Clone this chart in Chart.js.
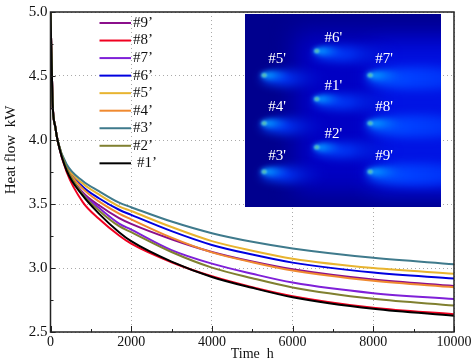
<!DOCTYPE html>
<html>
<head>
<meta charset="utf-8">
<style>
  html, body { margin: 0; padding: 0; background: #fff; }
  canvas { display: block; }
</style>
<script src="https://cdn.jsdelivr.net/npm/chart.js@4"></script>
</head>
<body>
<canvas id="chart" width="474" height="360"></canvas>
<script>
const times = [0, 50, 120, 180, 400, 800, 1200, 1700, 2000, 3000, 4000, 5000, 6000, 8000, 10000];

const series1 = [5.0, 4.3, 4.1, 3.99, 3.76, 3.565, 3.425, 3.28, 3.21, 3.05, 2.93, 2.845, 2.772, 2.681, 2.627];
const series2 = [5.0, 4.3, 4.1, 3.99, 3.78, 3.575, 3.45, 3.327, 3.28, 3.125, 3.003, 2.92, 2.848, 2.759, 2.707];
const series3 = [5.0, 4.3, 4.1, 3.99, 3.81, 3.68, 3.6, 3.51, 3.475, 3.363, 3.272, 3.205, 3.153, 3.08, 3.03];
const series4 = [5.0, 4.3, 4.1, 3.99, 3.785, 3.62, 3.52, 3.425, 3.38, 3.237, 3.122, 3.045, 2.98, 2.90, 2.85];
const series5 = [5.0, 4.3, 4.1, 3.99, 3.80, 3.66, 3.575, 3.482, 3.445, 3.32, 3.21, 3.135, 3.073, 3.0, 2.956];
const series6 = [5.0, 4.3, 4.1, 3.99, 3.79, 3.635, 3.545, 3.455, 3.415, 3.288, 3.18, 3.105, 3.042, 2.964, 2.917];
const series7 = [5.0, 4.3, 4.1, 3.99, 3.77, 3.58, 3.47, 3.347, 3.3, 3.14, 3.034, 2.955, 2.886, 2.803, 2.757];
const series8 = [5.0, 4.3, 4.1, 3.99, 3.75, 3.515, 3.385, 3.254, 3.19, 3.045, 2.935, 2.85, 2.78, 2.689, 2.638];
const series9 = [5.0, 4.3, 4.1, 3.99, 3.77, 3.59, 3.49, 3.39, 3.345, 3.225, 3.125, 3.05, 2.99, 2.91, 2.86];

const seriesLabels = ["#1’", "#2’", "#3’", "#4’", "#5’", "#6’", "#7’", "#8’", "#9’"];
const seriesColors = ['#000000', '#808030', '#3f7a8c', '#f08a30', '#e8b430', '#0000e0', '#7f20d8', '#f00020', '#8b0f8b'];
const seriesValues = [series1, series2, series3, series4, series5, series6, series7, series8, series9];

const xTitle = 'Time  h';
const yTitle = 'Heat flow  kW';
const serif = '"Liberation Serif", serif';

// the 9 wells of the inset picture
const wellLabels = ["#1'", "#2'", "#3'", "#4'", "#5'", "#6'", "#7'", "#8'", "#9'"];
const wellX = [316.3, 316.3, 263.7, 263.7, 263.7, 316.3, 369.7, 369.7, 369.7];
const wellY = [99, 147.3, 171.7, 123.3, 75.3, 51, 75.3, 123.3, 171.7];

function plume(ctx, x, y, len, halfH, stops) {
  const g = ctx.createLinearGradient(x, 0, x + len, 0);
  stops.forEach(s => g.addColorStop(s[0], s[1]));
  ctx.fillStyle = g;
  ctx.beginPath();
  ctx.ellipse(x + len / 2, y + 1, len / 2, halfH, 0, 0, Math.PI * 2);
  ctx.fill();
}

const insetPlugin = {
  id: 'inset',
  beforeDatasetsDraw(chart) {
    const ctx = chart.ctx;
    const left = 245, top = 14, w = 196, h = 193;
    ctx.save();
    ctx.beginPath();
    ctx.rect(left, top, w, h);
    ctx.clip();
    ctx.fillStyle = '#00008e';
    ctx.fillRect(left, top, w, h);

    // broad background glow
    ctx.filter = 'blur(12px)';
    ctx.fillStyle = '#0000c4';
    ctx.fillRect(295, 32, 180, 160);
    ctx.fillStyle = '#0014e4';
    ctx.fillRect(372, 48, 100, 140);

    wellX.forEach((x, i) => {
      const y = wellY[i];
      const right = x > 350;
      const mid = x > 300 && !right;
      const len = right ? 110 : (mid ? 85 : 66);
      ctx.filter = 'blur(5px)';
      plume(ctx, x - 3, y + 2, len, right ? 11 : 8, [
        [0, right ? '#0060ff' : '#0050ff'],
        [0.4, right ? '#0040ff' : '#0034f4'],
        [1, right ? '#0028f0' : 'rgba(0,16,210,0)']
      ]);
      ctx.filter = 'blur(2.5px)';
      plume(ctx, x - 3, y - 1, right ? 36 : 30, 4, [
        [0, '#18b0ff'],
        [0.35, '#0088ff'],
        [1, 'rgba(0,80,255,0)']
      ]);
      ctx.filter = 'blur(0.8px)';
      ctx.fillStyle = '#60e0f0';
      ctx.beginPath();
      ctx.ellipse(x + 0.5, y, 2.6, 2, 0, 0, Math.PI * 2);
      ctx.fill();
      ctx.fillStyle = '#509060';
      ctx.fillRect(x - 0.5, y - 1, 2, 2);
    });
    ctx.filter = 'none';

    ctx.fillStyle = '#ffffff';
    ctx.font = '15px ' + serif;
    ctx.textAlign = 'center';
    ctx.textBaseline = 'middle';
    wellLabels.forEach((t, i) => {
      const dx = wellX[i] === 263.7 ? 13.5 : (wellX[i] === 369.7 ? 14.5 : 17);
      const dy = wellX[i] === 316.3 ? -13 : -16;
      ctx.fillText(t, wellX[i] + dx, wellY[i] + dy);
    });
    ctx.restore();
  }
};

const framePlugin = {
  id: 'frame',
  afterDraw(chart) {
    const ctx = chart.ctx;
    const a = chart.chartArea;
    const x = chart.scales.x;
    const y = chart.scales.y;
    ctx.save();

    // legend
    const rows = seriesLabels.map((_, i) => seriesLabels.length - 1 - i);
    rows.forEach((idx, row) => {
      const ly = 23 + row * 17.54;
      ctx.strokeStyle = seriesColors[idx];
      ctx.lineWidth = 2;
      ctx.beginPath();
      ctx.moveTo(99.5, ly);
      ctx.lineTo(131, ly);
      ctx.stroke();
      ctx.fillStyle = '#111';
      ctx.font = '15px ' + serif;
      ctx.textAlign = 'left';
      ctx.textBaseline = 'middle';
      ctx.fillText(seriesLabels[idx], idx === 0 ? 137 : 133, ly);
    });

    // inward ticks
    ctx.strokeStyle = '#222';
    ctx.lineWidth = 1;
    x.ticks.forEach(t => {
      const px = Math.round(x.getPixelForValue(t.value)) + 0.5;
      const len = t.value % 2000 === 0 ? 6 : 3;
      ctx.beginPath();
      ctx.moveTo(px, a.bottom);
      ctx.lineTo(px, a.bottom - len);
      ctx.stroke();
    });
    y.ticks.forEach(t => {
      const py = Math.round(y.getPixelForValue(t.value)) + 0.5;
      const len = Math.abs(t.value * 2 - Math.round(t.value * 2)) < 0.001 ? 5 : 3;
      ctx.beginPath();
      ctx.moveTo(a.left, py);
      ctx.lineTo(a.left + len, py);
      ctx.stroke();
    });

    ctx.strokeStyle = '#222';
    ctx.lineWidth = 1.5;
    ctx.strokeRect(a.left, a.top, a.right - a.left, a.bottom - a.top);

    // y title sits above the middle of the axis in the original
    ctx.translate(11, 150);
    ctx.rotate(-Math.PI / 2);
    ctx.fillStyle = '#111';
    ctx.font = '15px ' + serif;
    ctx.textAlign = 'center';
    ctx.textBaseline = 'middle';
    ctx.fillText(yTitle, 0, 0);
    ctx.restore();
  }
};

new Chart(document.getElementById('chart').getContext('2d'), {
  type: 'line',
  data: {
    datasets: seriesValues.map((values, i) => ({
      label: seriesLabels[i],
      data: values.map((v, j) => ({ x: times[j], y: v })),
      borderColor: seriesColors[i],
      borderWidth: 2,
      pointRadius: 0,
      cubicInterpolationMode: 'monotone',
      fill: false
    }))
  },
  plugins: [insetPlugin, framePlugin],
  options: {
    responsive: false,
    animation: false,
    layout: { padding: { top: 10.5, right: 20 } },
    plugins: { legend: { display: false }, tooltip: { enabled: false } },
    scales: {
      x: {
        type: 'linear',
        min: 0,
        max: 10000,
        afterFit(scale) { scale.height = 28; },
        grid: {
          drawTicks: false,
          color: c => (c.tick && c.tick.value % 2000 === 0 ? '#aaaaaa' : 'transparent'),
          lineWidth: 1
        },
        border: { display: false, dash: [1, 3] },
        title: {
          display: true,
          text: xTitle,
          color: '#111',
          font: { family: serif, size: 14 },
          padding: { top: 0, bottom: -3 }
        },
        ticks: {
          stepSize: 1000,
          autoSkip: false,
          maxRotation: 0,
          padding: 2,
          color: '#111',
          font: { family: serif, size: 14 },
          callback: v => (v % 2000 === 0 ? String(v) : '')
        }
      },
      y: {
        min: 2.5,
        max: 5,
        afterFit(scale) { scale.width = 50.5; },
        grid: {
          drawTicks: false,
          color: c => (c.tick && Math.abs(c.tick.value * 2 - Math.round(c.tick.value * 2)) < 0.001 ? '#aaaaaa' : 'transparent'),
          lineWidth: 1
        },
        border: { display: false, dash: [1, 3] },
        ticks: {
          stepSize: 0.25,
          autoSkip: false,
          padding: 3,
          color: '#111',
          font: { family: serif, size: 15 },
          callback: v => (Math.abs(v * 2 - Math.round(v * 2)) < 0.001 ? v.toFixed(1) : '')
        }
      }
    }
  }
});
</script>
</body>
</html>
